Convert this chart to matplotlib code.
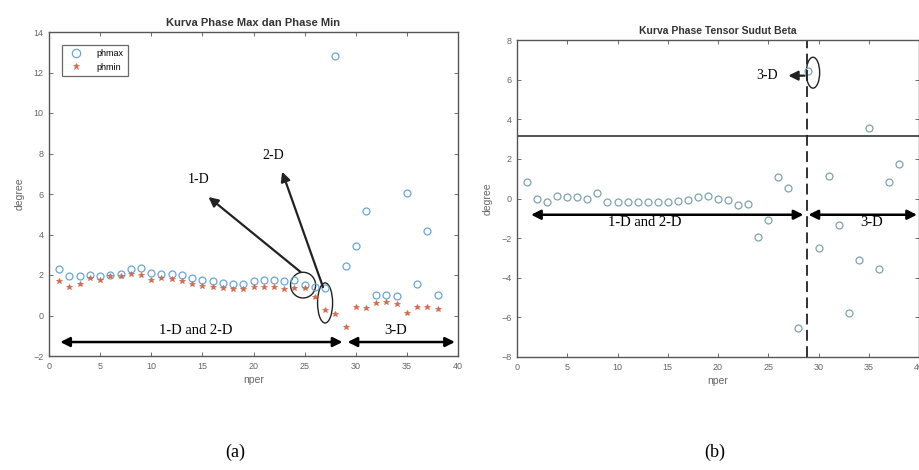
import matplotlib

matplotlib.use("Agg")
import matplotlib.pyplot as plt  # noqa: E402
import numpy as np  # noqa: E402
from matplotlib.patches import Ellipse  # noqa: E402

# values
nper = np.arange(1, 39)
phmax = [2.32, 1.96, 1.96, 2.0, 1.96, 2.0, 2.06, 2.29, 2.36, 2.09,
         2.06, 2.03, 2.0, 1.83, 1.73, 1.7, 1.6, 1.57, 1.57, 1.71,
         1.76, 1.76, 1.7, 1.73, 1.5, 1.4, 1.36, 12.8, 2.45, 3.41,
         5.16, 0.99, 1.0, 0.98, 6.05, 1.55, 4.15, 1.0]
phmin = [1.68, 1.4, 1.56, 1.85, 1.76, 1.93, 1.93, 2.03, 1.99, 1.76,
         1.83, 1.8, 1.68, 1.56, 1.48, 1.43, 1.35, 1.33, 1.33, 1.4,
         1.43, 1.4, 1.33, 1.37, 1.35, 0.9, 0.27, 0.08, -0.59, 0.4,
         0.36, 0.61, 0.66, 0.58, 0.12, 0.41, 0.41, 0.31]
beta = [0.82, -0.03, -0.17, 0.13, 0.07, 0.07, -0.03, 0.27, -0.17, -0.17,
        -0.17, -0.17, -0.17, -0.2, -0.2, -0.12, -0.07, 0.1, 0.13, 0.0,
        -0.07, -0.32, -0.27, -1.92, -1.08, 1.08, 0.54, -6.54, 6.44, -2.5,
        1.14, -1.36, -5.78, -3.09, 3.58, -3.56, 0.82, 1.73]
beta_limit = 3.15
split_nper = 28.9

serif = ["Liberation Serif", "DejaVu Serif"]
plt.rcParams["font.family"] = ["Liberation Sans", "DejaVu Sans"]


def style_axes(ax):
    for s in ax.spines.values():
        s.set_color("#555555")
        s.set_linewidth(1.0)
    ax.tick_params(direction="in", top=True, right=True, length=3, width=0.6,
                   labelsize=6.5, colors="#555555", labelcolor="#666666", pad=4)
    ax.set_xlabel("nper", fontsize=7.5, color="#666666", labelpad=3)
    ax.set_ylabel("degree", fontsize=7.5, color="#666666", labelpad=6)


def double_arrow(ax, x0, x1, y):
    ax.annotate("", xy=(x1, y), xytext=(x0, y),
                arrowprops=dict(arrowstyle="<|-|>", color="black", lw=1.8,
                                mutation_scale=14, shrinkA=0, shrinkB=0))


def arrow(ax, tail, head):
    ax.annotate("", xy=head, xytext=tail,
                arrowprops=dict(arrowstyle="-|>", color="#222222", lw=1.6,
                                mutation_scale=14, shrinkA=0, shrinkB=0))


fig = plt.figure(figsize=(9.19, 4.70), dpi=100)

# (a) phase max / phase min
ax1 = fig.add_axes([49 / 919, 114 / 470, 409 / 919, 324 / 470])
ax1.plot(nper, phmax, "o", ms=5, mfc="none", mec="#6aa6d6", mew=0.9, label="phmax")
ax1.plot(nper, phmin, "*", ms=4, color="#d2694a", mew=0.5, label="phmin")
ax1.set_xlim(0, 40)
ax1.set_ylim(-2, 14)
ax1.set_xticks(np.arange(0, 41, 5))
ax1.set_yticks(np.arange(-2, 15, 2))
style_axes(ax1)
ax1.set_title("Kurva Phase Max dan Phase Min", fontsize=8, fontweight="bold",
              color="#333333", pad=4)
leg = ax1.legend(loc="upper left", fontsize=6.5, frameon=True, fancybox=False,
                 edgecolor="#444444", borderpad=0.5, handletextpad=1.2,
                 handlelength=2.2, markerscale=1.2,
                 bbox_to_anchor=(0.02, 0.975))
leg.get_frame().set_linewidth(0.9)

ax1.add_patch(Ellipse((24.85, 1.5), 2.45, 1.27, fill=False, ec="#222222", lw=1.0))
ax1.add_patch(Ellipse((27.0, 0.62), 1.47, 1.98, fill=False, ec="#222222", lw=1.0))
arrow(ax1, (24.6, 2.15), (15.6, 5.85))
arrow(ax1, (26.8, 1.4), (22.8, 7.1))
ax1.text(14.6, 6.7, "1-D", family=serif, fontsize=10, ha="center", va="center")
ax1.text(21.9, 7.9, "2-D", family=serif, fontsize=10, ha="center", va="center")
double_arrow(ax1, 1.1, 28.7, -1.31)
double_arrow(ax1, 29.2, 39.7, -1.31)
ax1.text(14.4, -0.72, "1-D and 2-D", family=serif, fontsize=10.5, ha="center", va="center")
ax1.text(33.9, -0.72, "3-D", family=serif, fontsize=10.5, ha="center", va="center")

# (b) phase tensor beta
ax2 = fig.add_axes([517 / 919, 113 / 470, 402 / 919, 317 / 470])
ax2.plot(nper, beta, "o", ms=5, mfc="none", mec="#7fa3ad", mew=0.9)
ax2.axhline(beta_limit, color="#333333", lw=1.2)
ax2.axvline(split_nper, color="#222222", lw=1.3, ls=(0, (6, 3)))
ax2.set_xlim(0, 40)
ax2.set_ylim(-8, 8)
ax2.set_xticks(np.arange(0, 41, 5))
ax2.set_yticks(np.arange(-8, 9, 2))
style_axes(ax2)
ax2.set_title("Kurva Phase Tensor Sudut Beta", fontsize=7.5, fontweight="bold",
              color="#333333", pad=4)

ax2.add_patch(Ellipse((29.45, 6.35), 1.33, 1.56, fill=False, ec="#222222", lw=1.0))
arrow(ax2, (28.6, 6.2), (27.0, 6.2))
ax2.text(24.9, 6.2, "3-D", family=serif, fontsize=10, ha="center", va="center")
double_arrow(ax2, 1.4, 28.5, -0.82)
double_arrow(ax2, 29.0, 39.8, -0.82)
ax2.text(12.7, -1.21, "1-D and 2-D", family=serif, fontsize=10.5, ha="center", va="center")
ax2.text(35.3, -1.21, "3-D", family=serif, fontsize=10.5, ha="center", va="center")

fig.text(235 / 919, 1 - 452 / 470, "(a)", family=serif, fontsize=13, ha="center", va="center")
fig.text(715 / 919, 1 - 452 / 470, "(b)", family=serif, fontsize=13, ha="center", va="center")

fig.savefig("out.png", dpi=100)
plt.close(fig)
